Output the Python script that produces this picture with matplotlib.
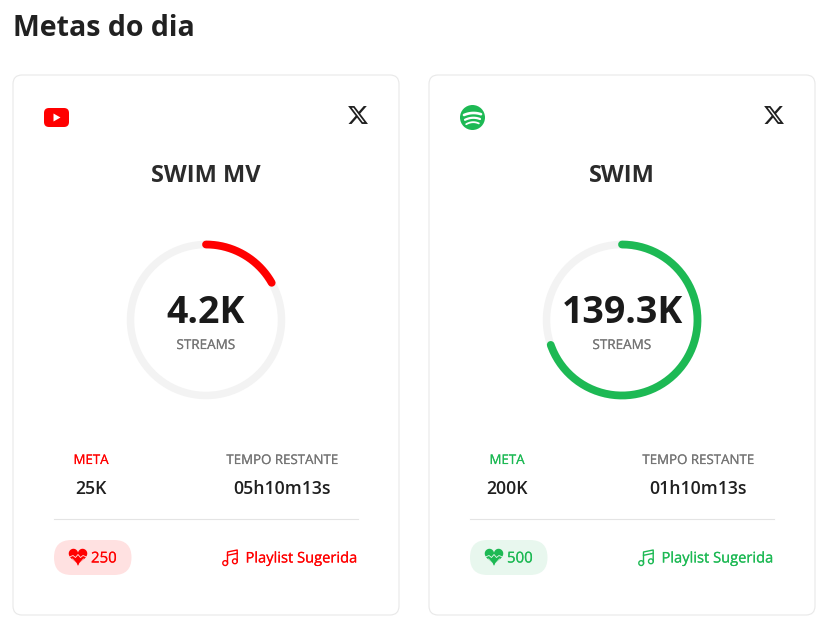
import numpy as np
import matplotlib
matplotlib.use("Agg")
import matplotlib.pyplot as plt
import matplotlib.patheffects as pe
from matplotlib.patches import FancyBboxPatch, Polygon, Circle, PathPatch
from matplotlib.path import Path

# Card data
titles = ["SWIM MV", "SWIM"]
current = [4.2, 139.3]
goal = [25, 200]
current_labels = ["4.2K", "139.3K"]
goal_labels = ["25K", "200K"]
time_left = ["05h10m13s", "01h10m13s"]
rewards = ["250", "500"]
colors = ["#ff0000", "#1db954"]
pill_colors = ["#ffe1e1", "#e8f7ee"]

plt.rcParams["font.family"] = ["Open Sans", "DejaVu Sans"]

fig = plt.figure(figsize=(8.4, 6.36), dpi=100)
ax = fig.add_axes([0, 0, 1, 1])
ax.set_xlim(0, 840)
ax.set_ylim(636, 0)
ax.axis("off")

PX = 0.72  # font px to pt at dpi 100


def rbox(x0, y0, x1, y1, r, fc, ec="none", lw=0, z=1):
    box = FancyBboxPatch((x0 + r, y0 + r), x1 - x0 - 2 * r, y1 - y0 - 2 * r,
                         boxstyle="round,pad=%f,rounding_size=%f" % (r, r),
                         fc=fc, ec=ec, lw=lw, zorder=z)
    ax.add_patch(box)


def x_logo(cx, cy, color):
    outer = [(18.244, 2.25), (21.552, 2.25), (14.325, 10.51), (22.827, 21.75), (16.17, 21.75),
             (10.956, 14.933), (4.99, 21.75), (1.68, 21.75), (9.41, 12.915), (1.254, 2.25),
             (8.08, 2.25), (12.793, 8.481), (18.244, 2.25)]
    inner = [(17.083, 19.77), (18.916, 19.77), (7.084, 4.126), (5.117, 4.126), (17.083, 19.77)]
    pts = np.array(outer + inner)
    codes = [Path.MOVETO] + [Path.LINETO] * (len(outer) - 1) + [Path.MOVETO] + [Path.LINETO] * (len(inner) - 1)
    pts = np.c_[cx + (pts[:, 0] - 12) * 0.92, cy + (pts[:, 1] - 12) * 0.92]
    ax.add_patch(PathPatch(Path(pts, codes), fc=color, ec="none", zorder=3))


def heart(cx, cy, color, bg):
    t = np.linspace(0, 2 * np.pi, 80)
    hx = 16 * np.sin(t) ** 3
    hy = 13 * np.cos(t) - 5 * np.cos(2 * t) - 2 * np.cos(3 * t) - np.cos(4 * t)
    ax.add_patch(Polygon(np.c_[cx + hx * 0.58, cy - 0.6 - hy * 0.6], fc=color, ec="none", zorder=3))
    # facet cuts of the gem
    ax.plot([cx - 8.5, cx - 5, cx - 2.5, cx, cx + 2.5, cx + 5, cx + 8.5],
            [cy + 0.5, cy - 1, cy + 1, cy - 2, cy + 1, cy - 1, cy + 0.5],
            color=bg, lw=0.6, zorder=4)
    ax.plot([cx - 5.5, cx - 1.5], [cy + 2.5, cy + 7], color=bg, lw=0.6, zorder=4)
    ax.plot([cx + 5.5, cx + 1.5], [cy + 2.5, cy + 7], color=bg, lw=0.6, zorder=4)


def note(x, y, color):
    # x, y = top left of a 16px music note icon
    ax.plot([x + 5.5, x + 5.5, x + 15.2, x + 15.2], [y + 13.5, y + 2.5, y + 0.5, y + 11.5],
            color=color, lw=1.0, zorder=3)
    ax.plot([x + 5.5, x + 15.2], [y + 5.8, y + 3.8], color=color, lw=1.0, zorder=3)
    ax.add_patch(Circle((x + 3.2, y + 13.6), 2.4, fc="none", ec=color, lw=1.0, zorder=3))
    ax.add_patch(Circle((x + 12.9, y + 11.8), 2.4, fc="none", ec=color, lw=1.0, zorder=3))


def label(x, y, s, size, color, ha="center"):
    # thin stroke, the reference text is a little heavier than Open Sans regular
    t = ax.text(x, y, s, fontsize=size * PX, color=color, ha=ha, va="center")
    t.set_path_effects([pe.withStroke(linewidth=0.12, foreground=color)])


ax.text(13, 28, "Metas do dia", fontsize=28.5 * PX, fontweight="bold", color="#212121",
        ha="left", va="center")

card_x = [13, 429]
for i in range(2):
    x0 = card_x[i]
    cx = x0 + 193
    c = colors[i]
    rbox(x0, 75, x0 + 386, 615, 9, "white", "#e8e8e8", 0.8)

    # header icons
    if i == 0:
        rbox(44, 108, 69, 127, 5, c, z=3)
        ax.add_patch(Polygon([[53.5, 113.5], [53.5, 121.5], [60.5, 117.5]], fc="white", ec="none", zorder=4))
    else:
        ax.add_patch(Circle((472.5, 117.5), 12.5, fc=c, ec="none", zorder=3))
        for dy, w, lw in [(-4.5, 8.5, 1.9), (0.3, 7.5, 1.6), (4.7, 6.3, 1.3)]:
            ts = np.linspace(-1, 1, 20)
            ax.plot(472.5 + w * ts, 117.5 + dy + 1.6 * ts ** 2 - 0.4 * ts, color="white", lw=lw,
                    solid_capstyle="round", zorder=4)
    x_logo(x0 + 345, 115, "#1f1f1f")

    ax.text(cx, 175.5, titles[i], fontsize=23.6 * PX, fontweight="bold", color="#2b2b2b",
            ha="center", va="center")

    # progress ring
    th = np.linspace(0, 2 * np.pi, 300)
    ax.plot(cx + 75.5 * np.sin(th), 320 - 75.5 * np.cos(th), color="#f3f3f3", lw=5.4, zorder=2)
    th = np.linspace(0, 2 * np.pi * current[i] / goal[i], 200)
    ax.plot(cx + 75.5 * np.sin(th), 320 - 75.5 * np.cos(th), color=c, lw=5.6,
            solid_capstyle="round", zorder=3)

    ax.text(cx, 313, current_labels[i], fontsize=37.5 * PX, fontweight="bold", color="#1a1a1a",
            ha="center", va="center")
    label(cx, 345.5, "STREAMS", 13.5, "#757575")

    # stats row
    label(x0 + 78, 460.5, "META", 13.3, c)
    ax.text(x0 + 78, 489.5, goal_labels[i], fontsize=17.6 * PX, fontweight="semibold", color="#1f1f1f",
            ha="center", va="center")
    label(x0 + 269, 460.5, "TEMPO RESTANTE", 13.3, "#757575")
    ax.text(x0 + 269, 488.5, time_left[i], fontsize=17.6 * PX, fontweight="semibold", color="#1f1f1f",
            ha="center", va="center")

    ax.plot([x0 + 41, x0 + 345], [519, 519], color="#e4e4e4", lw=0.8, zorder=2)

    # footer
    rbox(x0 + 41, 540, x0 + 118.5, 575, 17.5, pill_colors[i], z=2)
    heart(x0 + 65, 556.5, c, pill_colors[i])
    label(x0 + 78, 559, rewards[i], 15, c, ha="left")
    note(x0 + 209, 549.5, c)
    label(x0 + 345, 559, "Playlist Sugerida", 14.7, c, ha="right")

fig.savefig("out.png", dpi=100, facecolor="white")
